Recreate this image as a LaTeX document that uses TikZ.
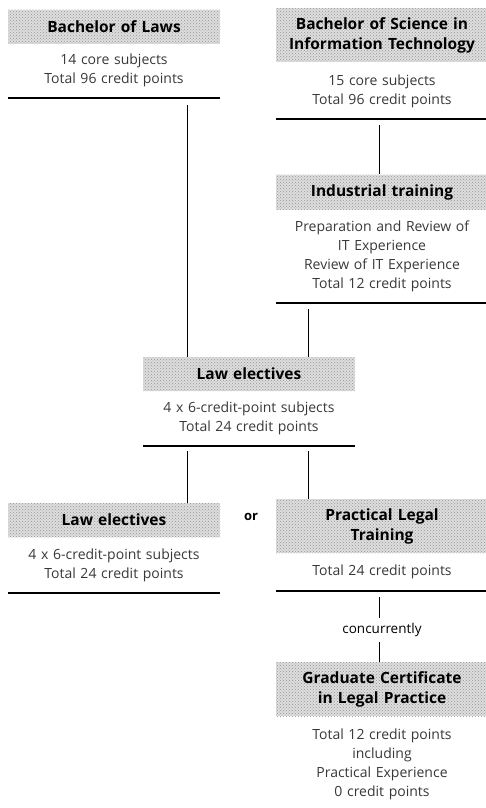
\documentclass[tikz,border=0pt]{standalone}
\usepackage{fontspec}
\setmainfont{Open Sans}
\usetikzlibrary{patterns}
\begin{document}
\begin{tikzpicture}[x=1pt,y=-1pt,
  head/.style={preaction={fill=black!13},pattern=crosshatch dots,pattern color=black!42,
    minimum height=#1,text width=212pt,align=center,inner sep=0pt,
    font=\fontsize{15.5}{20}\selectfont\bfseries},
  head/.default=34pt,
  body/.style={text width=212pt,align=center,inner sep=0pt,text=black!78,
    font=\fontsize{14}{19}\selectfont},
  rule/.style={line width=1.1pt},
  link/.style={line width=1pt}]
  \useasboundingbox (0,0) rectangle (486,808);
  \coordinate (c1) at (187.5,0);
  \coordinate (c2) at (308,0);
  \coordinate (c3) at (379,0);

  \node[head] (bol-h) at (114,27) {Bachelor of Laws};
  \node[body] (bol-b) at (114,70) {14 core subjects\\Total 96 credit points};
  \coordinate (bol-r) at (114,98);

  \node[head=54pt] (bsc-h) at (382,35) {Bachelor of Science in\\Information Technology};
  \node[body] (bsc-b) at (382,91) {15 core subjects\\Total 96 credit points};
  \coordinate (bsc-r) at (382,119);

  \node[head=35pt] (ind-h) at (382,192) {Industrial training};
  \node[body] (ind-b) at (382,256) {Preparation and Review of\\IT Experience\\Review of IT Experience\\Total 12 credit points};
  \coordinate (ind-r) at (382,303);

  \node[head] (lel-h) at (249,374) {Law electives};
  \node[body] (lel-b) at (249,418) {4 x 6-credit-point subjects\\Total 24 credit points};
  \coordinate (lel-r) at (249,446);

  \node[head] (lem-h) at (114,520) {Law electives};
  \node[body] (lem-b) at (114,565) {4 x 6-credit-point subjects\\Total 24 credit points};
  \coordinate (lem-r) at (114,593);

  \node[font=\fontsize{13}{15}\selectfont\bfseries] (or) at (251,517) {or};

  \node[head=54pt] (plt-h) at (382,526) {Practical Legal\\Training};
  \node[body] (plt-b) at (382,572) {Total 24 credit points};
  \coordinate (plt-r) at (382,591);

  \node[font=\fontsize{13.5}{15}\selectfont,inner sep=5pt] (conc) at (382,630) {concurrently};

  \node[head=54pt] (gc-h) at (382,689) {Graduate Certificate\\in Legal Practice};
  \node[body] (gc-b) at (382,764) {Total 12 credit points\\including\\Practical Experience\\0 credit points};

  \foreach \n in {bol,bsc,ind,lel,lem,plt}
  \draw[rule] (\n-h.west |- \n-r) -- (\n-h.east |- \n-r);

  \draw[link,shorten <=7pt] (bol-r -| c1) -- (lel-h.north -| c1);
  \draw[link,shorten <=6pt] (bsc-r -| c3) -- (ind-h.north -| c3);
  \draw[link,shorten <=6pt] (ind-r -| c2) -- (lel-h.north -| c2);
  \draw[link,shorten <=5pt] (lel-r -| c1) -- (lem-h.north -| c1);
  \draw[link,shorten <=5pt] (lel-r -| c2) -- (plt-h.north -| c2);
  \draw[link,shorten <=6pt] (plt-r -| c3) -- (conc.north -| c3);
  \draw[link] (conc.south -| c3) -- (gc-h.north -| c3);
\end{tikzpicture}
\end{document}
